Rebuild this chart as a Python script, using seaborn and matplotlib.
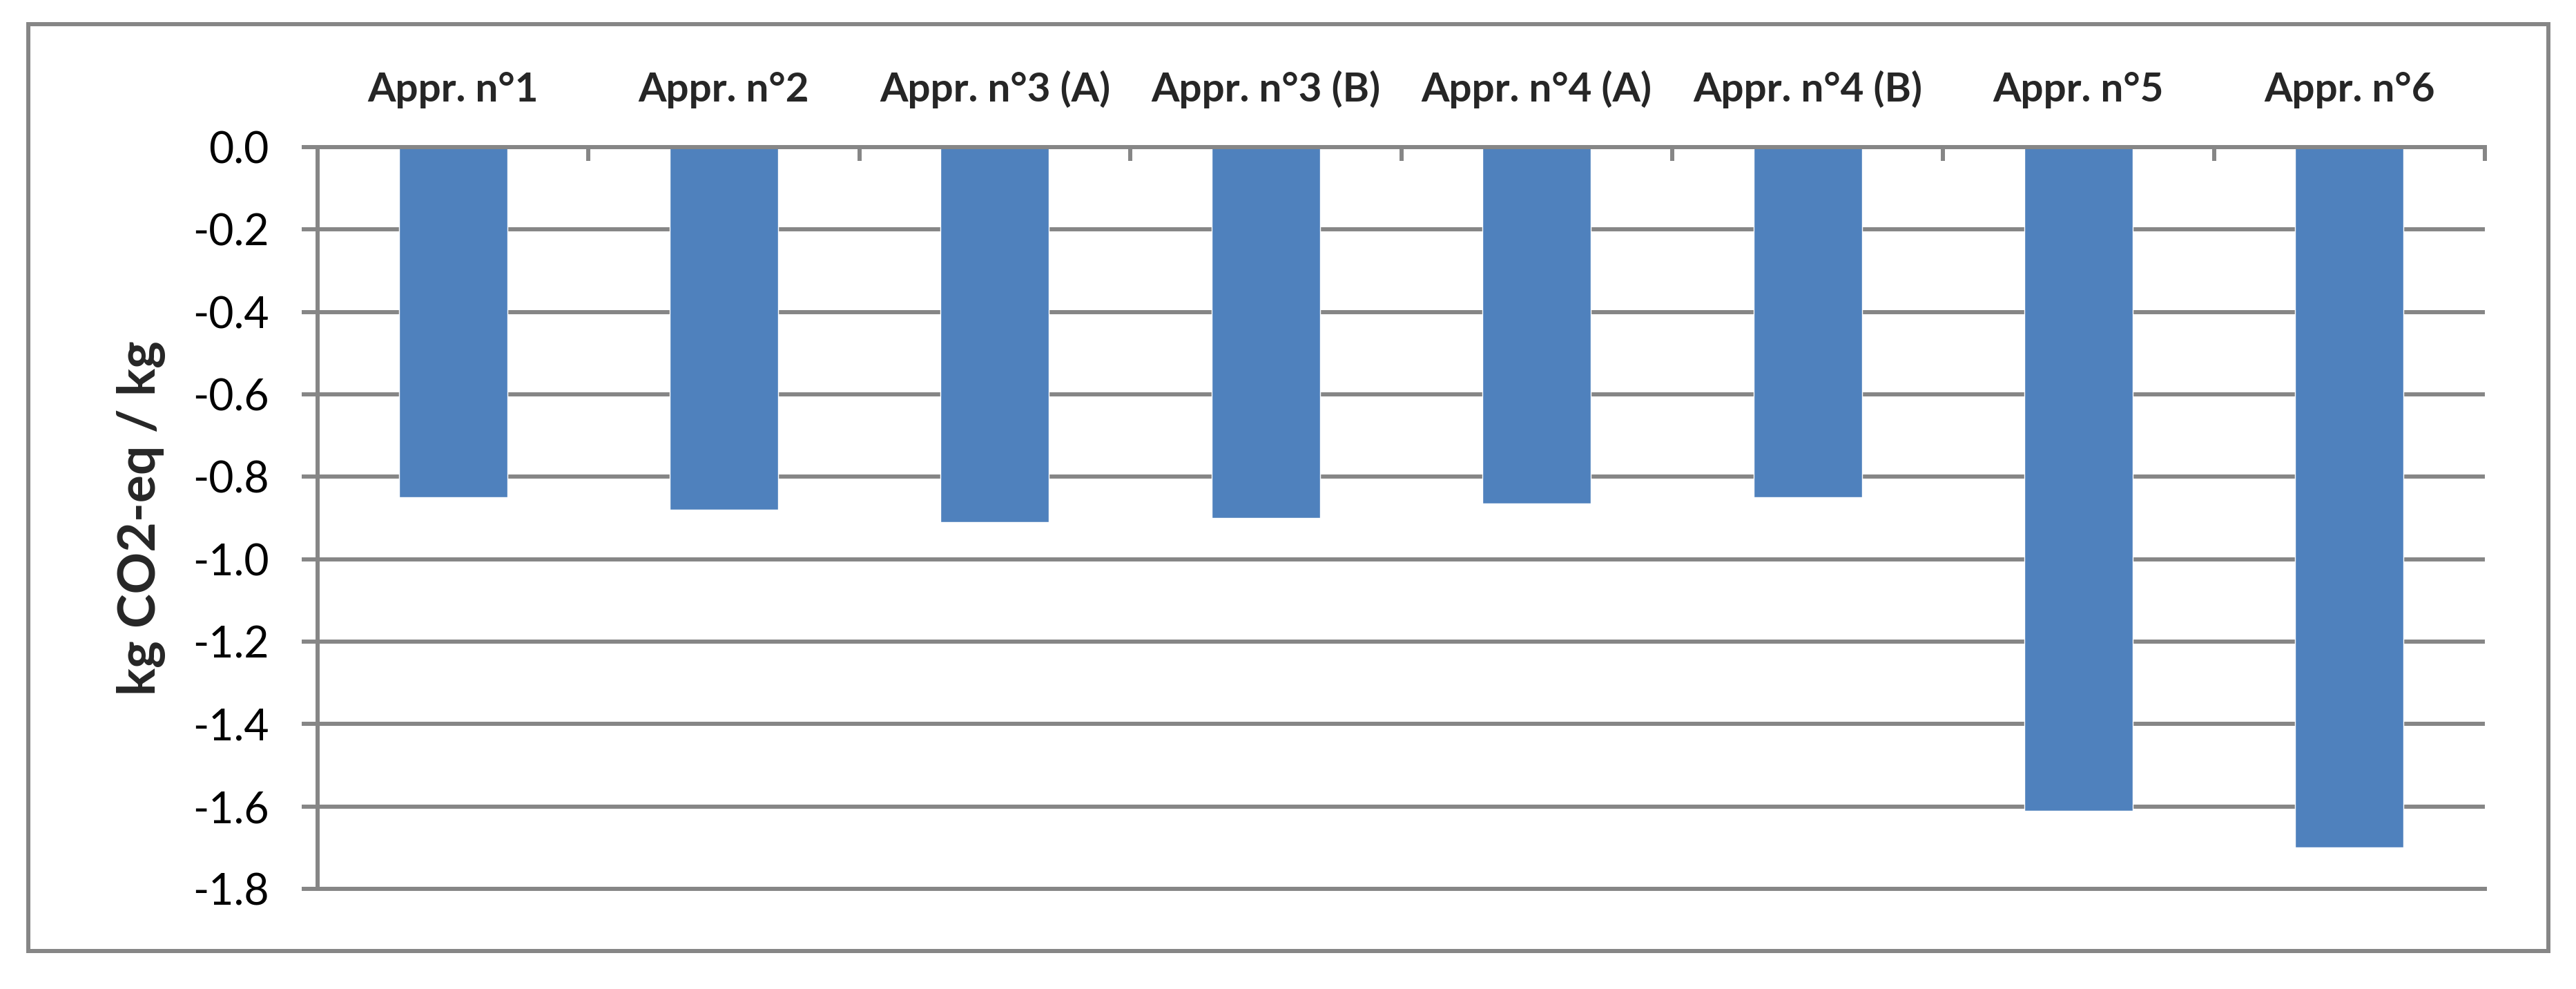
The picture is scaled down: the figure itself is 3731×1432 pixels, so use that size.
import numpy as np
import matplotlib
matplotlib.use('Agg')
import matplotlib.pyplot as plt
import seaborn as sns
from matplotlib.patches import Rectangle

# Chart data
approaches = ['Appr. n°1', 'Appr. n°2', 'Appr. n°3 (A)', 'Appr. n°3 (B)',
              'Appr. n°4 (A)', 'Appr. n°4 (B)', 'Appr. n°5', 'Appr. n°6']
co2_per_kg = [-0.85, -0.88, -0.91, -0.90, -0.865, -0.85, -1.61, -1.70]
y_ticks = [0.0, -0.2, -0.4, -0.6, -0.8, -1.0, -1.2, -1.4, -1.6, -1.8]
y_tick_labels = ['0.0', '-0.2', '-0.4', '-0.6', '-0.8', '-1.0', '-1.2', '-1.4', '-1.6', '-1.8']
y_label = 'kg CO2-eq / kg'

bar_color = '#4F81BD'
line_gray = '#868686'
lw = 4.3

sns.set_style('white')
plt.rcParams['font.family'] = ['Lato', 'DejaVu Sans']
plt.rcParams['axes.unicode_minus'] = False

fig = plt.figure(figsize=(37.31, 14.32), dpi=100)
ax = fig.add_axes([460 / 3731, 145 / 1432, 3139 / 3731, 1074 / 1432])

# Bars
sns.barplot(x=approaches, y=co2_per_kg, color=bar_color, saturation=1, width=0.4, ax=ax)
ax.set_xlim(-0.5, len(approaches) - 0.5)
ax.set_ylim(-1.8, 0)

# Horizontal gridlines
ax.set_axisbelow(True)
ax.set_yticks(y_ticks)
ax.set_yticklabels(y_tick_labels, fontsize=45)
ax.yaxis.grid(True, color=line_gray, linewidth=lw)
ax.xaxis.grid(False)

# Spines: 0.0 line at top, -1.8 line at bottom, left axis
for side in ['top', 'bottom', 'left']:
    ax.spines[side].set_visible(True)
    ax.spines[side].set_color(line_gray)
    ax.spines[side].set_linewidth(lw)
ax.spines['right'].set_visible(False)

ax.tick_params(axis='y', direction='out', length=16.5, width=lw, color=line_gray,
               pad=34, left=True, labelcolor='black')

# Category labels on top, boundary ticks pointing down
ax.xaxis.tick_top()
ax.set_xticks(range(len(approaches)))
ax.set_xticklabels(approaches, fontsize=42, fontweight='bold')
ax.set_xticks(np.arange(-0.5, len(approaches)), minor=True)
ax.tick_params(axis='x', which='major', length=0, pad=40, top=True, bottom=False,
               labeltop=True, labelbottom=False)
ax.tick_params(axis='x', which='minor', direction='in', length=14.5, width=lw,
               color=line_gray, top=True, bottom=False)
ax.set_xlabel('')

ax.set_ylabel(y_label, fontsize=54, fontweight='bold')
ax.yaxis.set_label_coords(-0.070, 0.5)

# Outer chart frame
fig.add_artist(Rectangle((41 / 3731, 55 / 1432), 3650 / 3731, 1342 / 1432,
                         transform=fig.transFigure, fill=False,
                         edgecolor=line_gray, linewidth=lw))

fig.savefig('out.png', dpi=100, facecolor='white')
